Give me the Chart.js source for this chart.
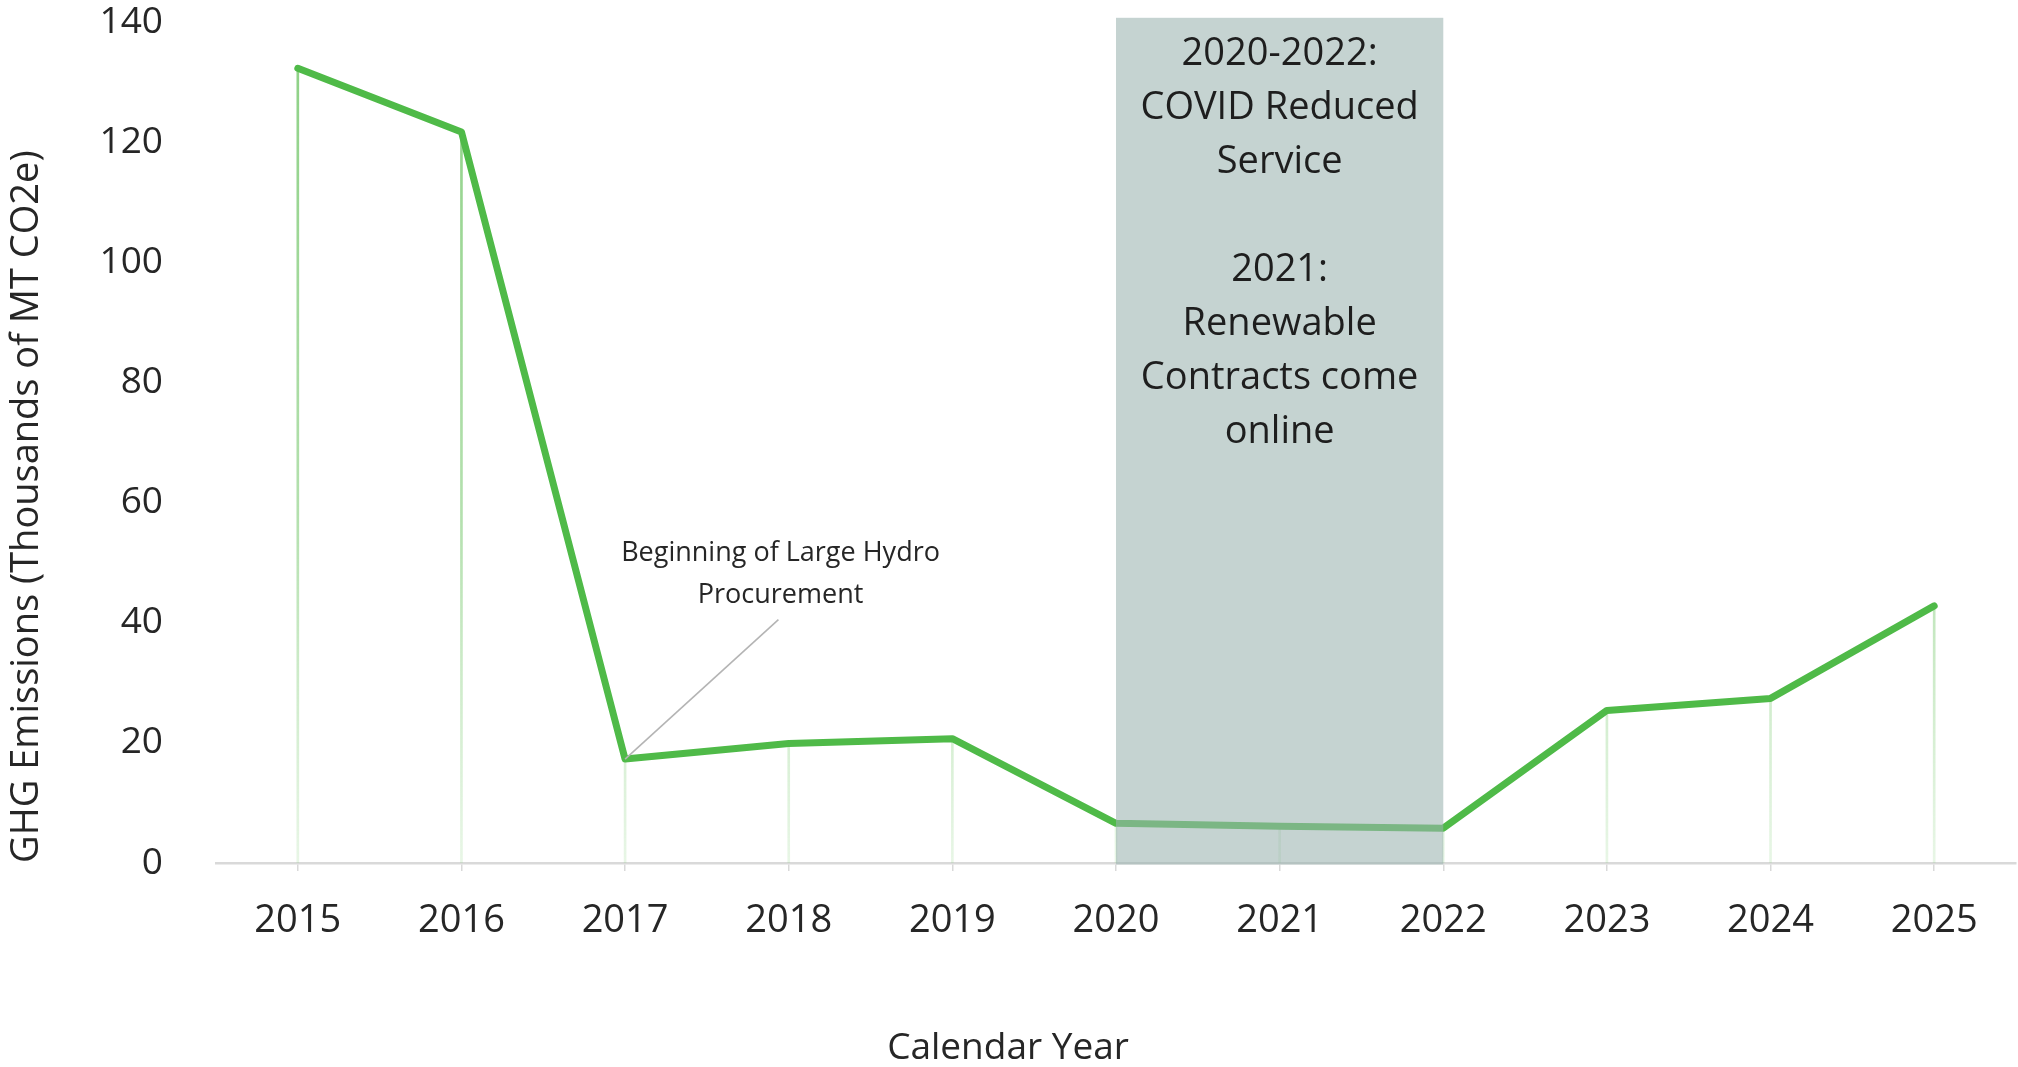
<!DOCTYPE html>
<html>
<head>
<meta charset="utf-8">
<script src="https://cdn.jsdelivr.net/npm/chart.js@4.4.1/dist/chart.umd.min.js"></script>
<style>
  html, body { margin: 0; padding: 0; background: #ffffff; }
  #wrap { width: 2018px; height: 1067px; position: relative; }
</style>
</head>
<body>
<div id="wrap"><canvas id="c" width="2018" height="1067"></canvas></div>
<script>
// ---- Data ----
const years = ['2015', '2016', '2017', '2018', '2019', '2020', '2021', '2022', '2023', '2024', '2025'];
const emissions = [132.3, 121.7, 17.3, 19.9, 20.7, 6.6, 6.1, 5.8, 25.4, 27.4, 42.8];
const yTickValues = [0, 20, 40, 60, 80, 100, 120, 140];
const yAxisTitle = 'GHG Emissions (Thousands of MT CO2e)';
const xAxisTitle = 'Calendar Year';
const covidBandStart = '2020';
const covidBandEnd = '2022';
const covidBandTop = 140.7;
const covidBandText = ['2020-2022:', 'COVID Reduced', 'Service', '', '2021:', 'Renewable', 'Contracts come', 'online'];
const hydroNoteYear = '2017';
const hydroNoteText = ['Beginning of Large Hydro', 'Procurement'];
const hydroNoteAnchor = { x: 2.95, y: 51.6 };     // category index / value of first text line centre
const hydroLeaderEnd = { x: 2.937, y: 40.5 };      // category index / value where leader line ends

const FONT = "'Open Sans', sans-serif";
Chart.defaults.font.family = FONT;
Chart.defaults.color = '#262626';

const annotationPlugin = {
  id: 'annotations',
  afterDatasetsDraw(chart) {
    const { ctx, scales } = chart;
    const x = scales.x, y = scales.y;
    ctx.save();

    // leader line for hydro note
    const hi = years.indexOf(hydroNoteYear);
    const px = x.getPixelForValue(hi);
    const py = y.getPixelForValue(emissions[hi]);
    const lx = x.getPixelForValue(hydroLeaderEnd.x);
    const ly = y.getPixelForValue(hydroLeaderEnd.y);
    ctx.strokeStyle = '#b4b4b4';
    ctx.lineWidth = 1.6;
    ctx.beginPath();
    ctx.moveTo(px, py);
    ctx.lineTo(lx, ly);
    ctx.stroke();

    // hydro note text
    ctx.fillStyle = '#262626';
    ctx.font = '27px ' + FONT;
    ctx.textAlign = 'center';
    ctx.textBaseline = 'middle';
    const tx = x.getPixelForValue(hydroNoteAnchor.x);
    const ty = y.getPixelForValue(hydroNoteAnchor.y);
    hydroNoteText.forEach((t, i) => ctx.fillText(t, tx, ty + i * 42));

    // COVID band
    const x0 = x.getPixelForValue(years.indexOf(covidBandStart));
    const x1 = x.getPixelForValue(years.indexOf(covidBandEnd));
    const yTop = y.getPixelForValue(covidBandTop);
    const yBot = y.getPixelForValue(0);
    ctx.fillStyle = 'rgba(155,179,176,0.58)';
    ctx.fillRect(x0, yTop, x1 - x0, yBot - yTop + 1.5);

    // band text
    ctx.fillStyle = '#1e1e1e';
    ctx.font = '38px ' + FONT;
    const cx = (x0 + x1) / 2;
    covidBandText.forEach((t, i) => {
      if (t) ctx.fillText(t, cx, yTop + 36 + i * 54.1);
    });
    ctx.restore();
  }
};

const ctx = document.getElementById('c').getContext('2d');
new Chart(ctx, {
  type: 'line',
  data: {
    labels: years,
    datasets: [
      {
        type: 'line',
        label: 'GHG Emissions',
        data: emissions,
        borderColor: '#4FBA48',
        borderWidth: 7,
        borderCapStyle: 'round',
        borderJoinStyle: 'round',
        pointRadius: 0,
        tension: 0,
        fill: false,
        order: 0
      },
      {
        type: 'bar',
        label: 'drop',
        data: emissions,
        barThickness: 2,
        backgroundColor: (c) => {
          const area = c.chart.chartArea;
          if (!area) return 'rgba(120,200,110,0.5)';
          const g = c.chart.ctx.createLinearGradient(0, area.top, 0, area.bottom);
          g.addColorStop(0, 'rgba(110,196,100,0.8)');
          g.addColorStop(0.6, 'rgba(120,200,110,0.55)');
          g.addColorStop(1, 'rgba(140,210,130,0.2)');
          return g;
        },
        borderWidth: 0,
        order: 1
      }
    ]
  },
  options: {
    responsive: false,
    animation: false,
    devicePixelRatio: 1,
    layout: { padding: { top: 22, left: 0, right: 2, bottom: 0 } },
    plugins: {
      legend: { display: false },
      tooltip: { enabled: false },
      title: {
        display: true,
        text: xAxisTitle,
        position: 'bottom',
        color: '#262626',
        font: { size: 37, weight: 'normal', family: FONT, lineHeight: 1.0 },
        padding: { top: 0, bottom: 0 }
      }
    },
    scales: {
      x: {
        type: 'category',
        offset: true,
        grid: {
          offset: false,
          drawOnChartArea: false,
          drawTicks: true,
          tickLength: 8,
          color: '#d9d9d9',
          lineWidth: 1.5
        },
        border: { display: true, color: '#d9d9d9', width: 2.5 },
        ticks: {
          color: '#262626',
          font: { size: 38, family: FONT },
          padding: 27,
          maxRotation: 0,
          autoSkip: false
        },
        afterFit: (s) => { s.height = 167; s.paddingLeft = 0; s.paddingRight = 0; }
      },
      y: {
        min: 0,
        max: 140,
        afterBuildTicks: (s) => { s.ticks = yTickValues.map(v => ({ value: v })); },
        grid: { display: false, drawTicks: false },
        border: { display: false },
        ticks: {
          color: '#262626',
          font: { size: 37, family: FONT },
          padding: 53
        },
        title: {
          display: true,
          text: yAxisTitle,
          align: 'start',
          color: '#262626',
          font: { size: 38, family: FONT },
          padding: { top: 4, bottom: 0 }
        },
        afterFit: (s) => { s.width = 216; s.paddingTop = 0; s.paddingBottom = 0; }
      }
    }
  },
  plugins: [annotationPlugin]
});
</script>
</body>
</html>
